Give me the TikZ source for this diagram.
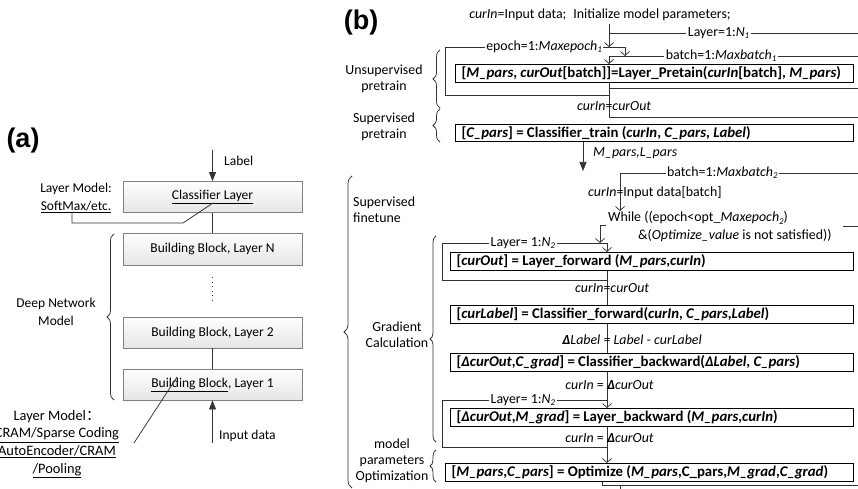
\documentclass[tikz,border=0pt]{standalone}
\usepackage{fontspec}
\setmainfont{Carlito}
\newfontfamily\panelfont{Liberation Sans}
\newfontfamily\cjk{Noto Sans CJK SC}
\usetikzlibrary{arrows.meta,decorations.pathreplacing}
% small italic index set slightly below the baseline (N1, Maxepoch2, ...)
\newcommand\lowidx[1]{\raisebox{-0.35ex}{\fontsize{8.8}{9}\selectfont\itshape #1}}
\newcommand\dlt{\textbf{\textit{Δ}}}

\begin{document}
\begin{tikzpicture}[x=1pt,y=-1pt,
  every node/.style={font=\fontsize{13.5}{16}\selectfont, inner sep=0pt},
  flow/.style={font=\fontsize{13.9}{16}\selectfont},
  blk/.style={draw=black!50, line width=0.8pt, top color=white, bottom color=black!10,
              minimum width=179pt, minimum height=31pt},
  stp/.style={draw=black, line width=1.1pt, fill=white, anchor=north west,
              minimum width=#1, minimum height=18pt, inner xsep=6pt,
              font=\fontsize{14.8}{17}\selectfont\bfseries},
  ln/.style={draw=black!80, line width=0.75pt},
  opn/.style={-{Straight Barb[length=4pt,width=9pt]}},
  fil/.style={-{Triangle[length=9pt,width=7pt]}},
  brc/.style={draw=black!80, line width=0.75pt, decorate, decoration={brace, amplitude=#1}},
  lbl/.style={fill=white, inner xsep=1.5pt, inner ysep=1pt, flow},
  panel/.style={font={\panelfont\bfseries\fontsize{27}{29}\selectfont}},
  multi/.style={align=center, font=\fontsize{13.5}{17.6}\selectfont},
]
\useasboundingbox (0,0) rectangle (858,489);
\clip (0,0) rectangle (858,489);

% ---------------- (a) layered model ----------------
\node[panel] (pa) at (23,141) {(a)};

\node[blk] (cls) at (212.5,197) {\underline{Classifier Layer}};
\node[blk, minimum height=32pt] (bN) at (212.5,249) {Building Block, Layer N};
\node[blk] (b2) at (212.5,332.5) {Building Block, Layer 2};
\node[blk] (b1) at (212.5,384.5) {\underline{Building Block}, Layer 1};

\coordinate (a-lab) at (212.5,150);
\draw[ln,fil] (a-lab) -- (cls.north);
\node[anchor=west] (tlab) at (224,161) {Label};
\draw[ln] (cls.south) -- (bN.north);
\coordinate (a-dt) at (212.5,277);
\coordinate (a-db) at (212.5,303);
\draw[black!80, line width=1.3pt, dash pattern=on 1.3pt off 3.2pt] (a-dt) -- (a-db);
\draw[ln] (b2.south) -- (b1.north);
\coordinate (a-in) at (212.5,443);
\draw[ln,fil] (a-in) -- (b1.south);
\node[anchor=west] (tin) at (219,436) {Input data};

\node[multi] (lm1) at (76,198) {Layer Model:\\\underline{SoftMax/etc.}};
\coordinate (a-s0) at (72,212);
\coordinate (a-s1) at (72,223);
\coordinate (a-s2) at (183,223);
\coordinate (a-s3) at (213,203);
\draw[ln] (a-s0) -- (a-s1) -- (a-s2) -- (a-s3);

\draw[brc=7pt] (114,400) -- (114,234);
\node[multi] (dnm) at (56,312) {Deep Network\\Model};

\node[multi, font=\fontsize{14.4}{17.6}\selectfont] (lm2) at (57,444) {Layer Model{\cjk ：}\\\underline{CRAM/Sparse Coding}\\\underline{AutoEncoder/CRAM}\\\underline{/Pooling}};
\coordinate (a-d0) at (134,443);
\coordinate (a-d1) at (177,377);
\draw[ln] (a-d0) -- (a-d1);

% ---------------- (b) training procedure ----------------
\node[panel] (pb) at (361,23) {(b)};

\node[flow] (init) at (600,15) {\textit{curIn}=Input data;\enspace Initialize model parameters;};

% unsupervised pretraining loops
\node[stp=398pt] (pre) at (455,64) {\makebox[386pt][l]{[\textit{M\_pars}, \textit{curOut}[batch]]=Layer\_Pretain(\textit{curIn}[batch], \textit{M\_pars})}};

\coordinate (c-top) at (609,24);
\coordinate (c-l1j) at (609,33);
\coordinate (c-l1r) at (858,33);
\coordinate (c-ept) at (609,47);
\coordinate (c-epl) at (445,47);
\coordinate (c-epr) at (625,47);
\coordinate (c-epa) at (625,56);
\coordinate (c-epk) at (609,95);
\coordinate (c-epb) at (445,95);
\coordinate (c-b1j) at (609,56);
\coordinate (c-b1r) at (858,56);
\coordinate (c-b1k) at (609,88);
\coordinate (c-b1s) at (858,88);
\coordinate (c-l1b) at (609,117);
\coordinate (c-l1s) at (858,117);

\draw[ln,opn] (c-top) -- (c-ept);
\draw[ln] (c-l1r) -- node[lbl,pos=0.56]{Layer=1:\textit{N}\lowidx{1}} (c-l1j);
\draw[ln,opn] (c-epk) -- (c-epb) -- (c-epl) -- node[lbl,pos=0.55]{epoch=1:\textit{Maxepoch}\lowidx{1}} (c-epr) -- (c-epa);
\draw[ln,opn] (c-b1r) -- node[lbl,pos=0.55]{batch=1:\textit{Maxbatch}\lowidx{1}} (c-b1j) -- (pre.north -| c-b1j);
\draw[ln] (pre.south -| c-b1j) -- (c-l1b);
\draw[ln] (c-b1k) -- (c-b1s);
\draw[ln] (c-l1b) -- (c-l1s);
\node[flow] (ci1) at (609,106) {\llap{\textit{curIn}}=\rlap{\textit{curOut}}};

% supervised pretraining
\node[stp=398pt, minimum height=17pt] (clf) at (455,124) {\makebox[386pt][l]{[\textit{C\_pars}] = Classifier\_train (\textit{curIn}, \textit{C\_pars}, \textit{Label})}};
\coordinate (c-mpt) at (583,171);
\draw[ln,fil] (clf.south -| c-mpt) -- (c-mpt);
\node[flow, anchor=west] (mpl) at (593,153) {\textit{M\_pars,L\_pars}};

% fine-tuning loops
\coordinate (c-b2r) at (858,173);
\coordinate (c-b2j) at (620,173);
\coordinate (c-b2t) at (620,211);
\draw[ln,opn] (c-b2r) -- node[lbl,pos=0.57]{batch=1:\textit{Maxbatch}\lowidx{2}} (c-b2j) -- (c-b2t);
\node[flow] (ci2) at (620,193) {\llap{\textit{curIn}}=\rlap{Input data[batch]}};
\node[flow, anchor=west] (wh1) at (608,218) {While ((epoch<opt\_\textit{Maxepoch}\lowidx{2})};
\node[flow, anchor=west] (wh2) at (638,236) {\&(\textit{Optimize\_value} is not satisfied))};
\coordinate (c-hk0) at (606,225);
\coordinate (c-hk1) at (600,225);
\coordinate (c-hk2) at (600,243);
\draw[ln,opn] (c-hk0) -- (c-hk1) -- (c-hk2);
\coordinate (c-wr0) at (843,226);
\coordinate (c-wr1) at (858,226);
\draw[ln] (c-wr0) -- (c-wr1);

\node[stp=403pt] (fwd) at (450,252) {\makebox[391pt][l]{[\textit{curOut}] = Layer\_forward (\textit{M\_pars},\textit{curIn})}};
\node[stp=403pt] (cfw) at (450,305) {\makebox[391pt][l]{[\textit{curLabel}] = Classifier\_forward(\textit{curIn}, \textit{C\_pars},\textit{Label})}};
\node[stp=403pt] (cbw) at (450,353) {\makebox[391pt][l]{[\dlt\textit{curOut},\textit{C\_grad}] = Classifier\_backward(\dlt\textit{Label}, \textit{C\_pars})}};
\node[stp=403pt] (lbw) at (450,408) {\makebox[391pt][l]{[\dlt\textit{curOut},\textit{M\_grad}] = Layer\_backward (\textit{M\_pars},\textit{curIn})}};
\node[stp=408pt] (opt) at (445,463) {\makebox[396pt][l]{[\textit{M\_pars},\textit{C\_pars}] = Optimize (\textit{M\_pars},C\_pars,\textit{M\_grad},\textit{C\_grad})}};

\coordinate (c-fb) at (607,280);
\coordinate (c-fbl) at (442,280);
\coordinate (c-ftl) at (442,243);
\coordinate (c-ft) at (607,243);
\draw[ln,opn] (fwd.south -| c-fb) -- (c-fb) -- (c-fbl) -- (c-ftl) -- node[lbl,pos=0.49]{Layer= 1:\textit{N}\lowidx{2}} (c-ft) -- (fwd.north -| c-ft);
\draw[ln] (c-fb) -- (cfw.north -| c-fb);
\node[flow] (ci3) at (607,288) {\llap{\textit{curIn}}=\rlap{\textit{curOut}}};
\draw[ln] (cfw.south -| c-fb) -- (cbw.north -| c-fb);
\node[flow] (dl) at (607,340) {\itshape\llap{\dlt Label }=\rlap{ Label - curLabel}};
\draw[ln,opn] (cbw.south -| c-fb) -- (lbw.north -| c-fb);
\node[flow] (ci4) at (607,385) {\llap{\textit{curIn} = }\rlap{\dlt\textit{curOut}}};

\coordinate (c-bb) at (607,447);
\coordinate (c-bbl) at (442,447);
\coordinate (c-btl) at (442,400);
\coordinate (c-bt) at (607,400);
\draw[ln] (c-bb) -- (c-bbl) -- (c-btl) -- node[lbl,pos=0.49]{Layer= 1:\textit{N}\lowidx{2}} (c-bt);
\draw[ln,opn] (lbw.south -| c-fb) -- (opt.north -| c-fb);
\node[flow] (ci5) at (607,438) {\llap{\textit{curIn} = }\rlap{\dlt\textit{curOut}}};

\coordinate (c-ob) at (602,485);
\coordinate (c-obr) at (858,485);
\coordinate (c-oj) at (620,485);
\coordinate (c-od) at (620,492);
\draw[ln] (opt.south -| c-ob) -- (c-ob) -- (c-obr);
\draw[ln] (c-oj) -- (c-od);

% phase braces and captions
\draw[brc=7pt] (440,108) -- (440,50);
\node[multi, flow] (t-un) at (384,79) {Unsupervised\\pretrain};
\draw[brc=7pt] (440,142) -- (440,109);
\node[multi, flow] (t-sp) at (384,127) {Supervised\\pretrain};
\draw[brc=8pt] (352,488) -- (352,176);
\node[multi, flow, align=left, anchor=west] (t-ft) at (353,210) {Supervised\\finetune};
\draw[brc=6pt] (436,442) -- (436,236);
\node[multi, flow] (t-gc) at (397,335) {Gradient\\Calculation};
\draw[brc=6pt] (436,482) -- (436,450);
\node[multi, flow] (t-mo) at (392,461) {model\\parameters\\Optimization};
\end{tikzpicture}
\end{document}
